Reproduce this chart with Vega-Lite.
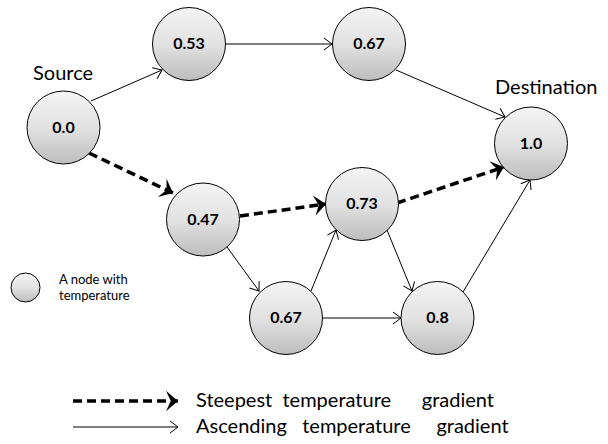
{
  "$schema": "https://vega.github.io/schema/vega-lite/v6.json",
  "width": 608,
  "height": 444,
  "padding": 0,
  "autosize": {"type": "fit", "contains": "padding"},
  "background": "white",
  "config": {"view": {"stroke": null}},
  "datasets": {
    "nodes": [
      {"label": "0.0", "x": 63.5, "y": 127.5},
      {"label": "0.53", "x": 189, "y": 44},
      {"label": "0.67", "x": 369, "y": 44},
      {"label": "1.0", "x": 531, "y": 143.5},
      {"label": "0.47", "x": 203, "y": 219.5},
      {"label": "0.73", "x": 362, "y": 204},
      {"label": "0.67", "x": 286, "y": 318},
      {"label": "0.8", "x": 437.5, "y": 318}
    ],
    "legendNode": [
      {"label": "node", "x": 25.5, "y": 287.5}
    ],
    "edges": [
      {"kind": "ascending", "x": 91, "y": 101, "x2": 162, "y2": 70},
      {"kind": "ascending", "x": 225, "y": 44, "x2": 332, "y2": 44},
      {"kind": "ascending", "x": 396, "y": 70, "x2": 505, "y2": 117},
      {"kind": "steepest", "x": 89, "y": 153, "x2": 173, "y2": 193},
      {"kind": "steepest", "x": 240, "y": 216, "x2": 326, "y2": 204},
      {"kind": "steepest", "x": 397, "y": 203, "x2": 504, "y2": 167},
      {"kind": "ascending", "x": 227, "y": 247, "x2": 259, "y2": 291},
      {"kind": "ascending", "x": 311, "y": 291, "x2": 336, "y2": 230},
      {"kind": "ascending", "x": 322, "y": 318, "x2": 401, "y2": 318},
      {"kind": "ascending", "x": 387, "y": 230, "x2": 412, "y2": 291},
      {"kind": "ascending", "x": 463, "y": 292, "x2": 530, "y2": 180},
      {"kind": "steepest", "x": 73, "y": 401, "x2": 178, "y2": 401},
      {"kind": "ascending", "x": 73, "y": 427, "x2": 178, "y2": 427}
    ],
    "bigText": [
      {"text": "Source", "x": 33, "y": 80},
      {"text": "Destination", "x": 495, "y": 94}
    ],
    "legendText": [
      {"text": "Steepest\u00a0\u00a0temperature\u00a0\u00a0\u00a0\u00a0\u00a0\u00a0gradient", "x": 196, "y": 407},
      {"text": "Ascending\u00a0\u00a0\u00a0temperature\u00a0\u00a0\u00a0\u00a0\u00a0gradient", "x": 196, "y": 433}
    ],
    "smallText": [
      {"text": "A node with", "x": 59, "y": 284},
      {"text": "temperature", "x": 59, "y": 300}
    ]
  },
  "layer": [
    {
      "data": {"name": "edges"},
      "transform": [{"filter": "datum.kind === 'ascending'"}],
      "mark": {"type": "rule", "color": "black", "strokeWidth": 1},
      "encoding": {
        "x": {"field": "x", "type": "quantitative", "scale": {"domain": [0, 608], "nice": false, "zero": false}, "axis": null},
        "y": {"field": "y", "type": "quantitative", "scale": {"domain": [0, 444], "nice": false, "zero": false, "reverse": true}, "axis": null},
        "x2": {"field": "x2"},
        "y2": {"field": "y2"}
      }
    },
    {
      "data": {"name": "edges"},
      "transform": [{"filter": "datum.kind === 'steepest'"}],
      "mark": {"type": "rule", "color": "black", "strokeWidth": 3.5, "strokeDash": [9, 5]},
      "encoding": {
        "x": {"field": "x", "type": "quantitative"},
        "y": {"field": "y", "type": "quantitative"},
        "x2": {"field": "x2"},
        "y2": {"field": "y2"}
      }
    },
    {
      "data": {"name": "edges"},
      "transform": [
        {"filter": "datum.kind === 'ascending'"},
        {"calculate": "atan2(datum.y2 - datum.y, datum.x2 - datum.x) * 180 / PI", "as": "dir"}
      ],
      "mark": {"type": "point", "shape": "M -1 -0.75 L 0 0 L -1 0.75", "filled": false, "stroke": "black", "strokeWidth": 1, "size": 256, "opacity": 1},
      "encoding": {
        "x": {"field": "x2", "type": "quantitative"},
        "y": {"field": "y2", "type": "quantitative"},
        "angle": {"field": "dir", "type": "quantitative", "scale": null}
      }
    },
    {
      "data": {"name": "edges"},
      "transform": [
        {"filter": "datum.kind === 'steepest'"},
        {"calculate": "atan2(datum.y2 - datum.y, datum.x2 - datum.x) * 180 / PI", "as": "dir"}
      ],
      "mark": {"type": "point", "shape": "M -1 -0.85 L 0 0 L -1 0.85 L -0.6 0 Z", "filled": true, "fill": "black", "strokeWidth": 0, "size": 576, "opacity": 1},
      "encoding": {
        "x": {"field": "x2", "type": "quantitative"},
        "y": {"field": "y2", "type": "quantitative"},
        "angle": {"field": "dir", "type": "quantitative", "scale": null}
      }
    },
    {
      "data": {"name": "nodes"},
      "mark": {
        "type": "point", "shape": "circle", "size": 5329, "opacity": 1, "filled": true,
        "fill": {"gradient": "linear", "x1": 0, "y1": 0, "x2": 0, "y2": 1, "stops": [{"offset": 0, "color": "#f4f4f4"}, {"offset": 0.5, "color": "#e2e2e2"}, {"offset": 1, "color": "#bdbdbd"}]},
        "stroke": "black", "strokeWidth": 1
      },
      "encoding": {
        "x": {"field": "x", "type": "quantitative"},
        "y": {"field": "y", "type": "quantitative"}
      }
    },
    {
      "data": {"name": "legendNode"},
      "mark": {
        "type": "point", "shape": "circle", "size": 841, "opacity": 1, "filled": true,
        "fill": {"gradient": "linear", "x1": 0, "y1": 0, "x2": 0, "y2": 1, "stops": [{"offset": 0, "color": "#f4f4f4"}, {"offset": 0.5, "color": "#e2e2e2"}, {"offset": 1, "color": "#bdbdbd"}]},
        "stroke": "black", "strokeWidth": 1
      },
      "encoding": {
        "x": {"field": "x", "type": "quantitative"},
        "y": {"field": "y", "type": "quantitative"}
      }
    },
    {
      "data": {"name": "nodes"},
      "mark": {"type": "text", "font": "Lato", "fontWeight": "bold", "fontSize": 16, "color": "black", "align": "center", "baseline": "middle"},
      "encoding": {
        "x": {"field": "x", "type": "quantitative"},
        "y": {"field": "y", "type": "quantitative"},
        "text": {"field": "label"}
      }
    },
    {
      "data": {"name": "bigText"},
      "mark": {"type": "text", "font": "Lato", "fontSize": 20, "color": "black", "align": "left", "baseline": "alphabetic"},
      "encoding": {
        "x": {"field": "x", "type": "quantitative"},
        "y": {"field": "y", "type": "quantitative"},
        "text": {"field": "text"}
      }
    },
    {
      "data": {"name": "legendText"},
      "mark": {"type": "text", "font": "Lato", "fontSize": 20, "color": "black", "align": "left", "baseline": "alphabetic"},
      "encoding": {
        "x": {"field": "x", "type": "quantitative"},
        "y": {"field": "y", "type": "quantitative"},
        "text": {"field": "text"}
      }
    },
    {
      "data": {"name": "smallText"},
      "mark": {"type": "text", "font": "Lato", "fontSize": 13, "color": "black", "align": "left", "baseline": "alphabetic"},
      "encoding": {
        "x": {"field": "x", "type": "quantitative"},
        "y": {"field": "y", "type": "quantitative"},
        "text": {"field": "text"}
      }
    }
  ]
}
